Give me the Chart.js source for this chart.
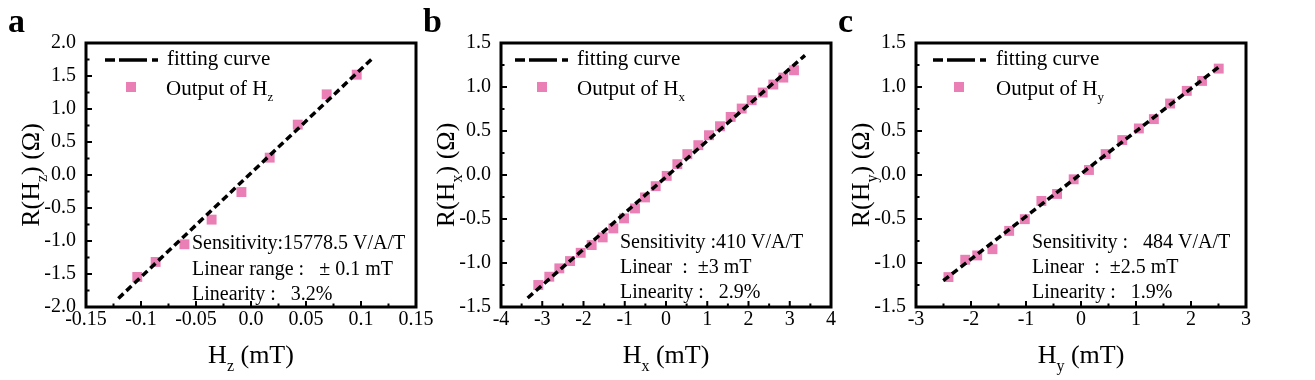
<!DOCTYPE html>
<html><head><meta charset="utf-8">
<script src="https://cdn.jsdelivr.net/npm/chart.js@4/dist/chart.umd.min.js"></script>
<style>
body{margin:0;background:#fff;width:1315px;height:380px;overflow:hidden;position:relative}
canvas{position:absolute;top:0}
</style></head><body>
<canvas id="ca" width="440" height="380" style="left:0px"></canvas>
<canvas id="cb" width="440" height="380" style="left:415px"></canvas>
<canvas id="cc" width="440" height="380" style="left:830px"></canvas>
<script>
// ---- Panel a: Hz ----
const hzField  = [-0.1034, -0.0867, -0.0605, -0.0358, -0.0087, 0.0170, 0.0425, 0.0688, 0.0961];
const hzOutput = [-1.545, -1.317, -1.05, -0.676, -0.258, 0.263, 0.763, 1.222, 1.52];
const hzFitField  = [-0.1206, 0.1118];
const hzFitOutput = [-1.87, 1.79];
const hzXTickLabels = ['-0.15','-0.1','-0.05','0.0','0.05','0.1','0.15'];
const hzYTickLabels = ['-2.0','-1.5','-1.0','-0.5','0.0','0.5','1.0','1.5','2.0'];

// ---- Panel b: Hx ----
const hxField  = [-3.096,-2.829,-2.586,-2.327,-2.068,-1.802,-1.535,-1.277,-1.018,-0.752,-0.509,-0.250,0.017,0.275,0.517,0.784,1.042,1.309,1.568,1.835,2.077,2.344,2.602,2.844,3.103];
const hxOutput = [-1.250,-1.156,-1.061,-0.978,-0.884,-0.796,-0.709,-0.607,-0.493,-0.380,-0.255,-0.127,-0.010,0.123,0.237,0.339,0.452,0.554,0.660,0.755,0.850,0.937,1.028,1.107,1.190];
const hxFitField  = [-3.354, 3.37];
const hxFitOutput = [-1.398, 1.36];
const hxXTickLabels = ['-4','-3','-2','-1','0','1','2','3','4'];
const hxYTickLabels = ['-1.5','-1.0','-0.5','0.0','0.5','1.0','1.5'];

// ---- Panel c: Hy ----
const hyField  = [-2.41,-2.105,-1.887,-1.61,-1.306,-1.022,-0.72,-0.435,-0.133,0.145,0.448,0.75,1.052,1.325,1.62,1.923,2.20,2.504];
const hyOutput = [-1.16,-0.963,-0.914,-0.843,-0.635,-0.502,-0.295,-0.215,-0.049,0.057,0.238,0.397,0.529,0.635,0.812,0.956,1.069,1.209];
const hyFitField  = [-2.504, 2.546];
const hyFitOutput = [-1.20, 1.247];
const hyXTickLabels = ['-3','-2','-1','0','1','2','3'];
const hyYTickLabels = ['-1.5','-1.0','-0.5','0.0','0.5','1.0','1.5'];

const PINK = 'rgb(233,127,181)';
const SERIF = '"Liberation Serif", "Times New Roman", serif';

function richWidth(ctx, parts, size, subSize){
  let w = 0;
  parts.forEach(p => { ctx.font = (p.sub ? subSize : size) + 'px ' + SERIF; w += ctx.measureText(p.t).width; });
  return w;
}
function drawRich(ctx, parts, x, y, size, subSize, subShift){
  parts.forEach(p => {
    ctx.font = (p.sub ? subSize : size) + 'px ' + SERIF;
    ctx.fillText(p.t, x, y + (p.sub ? subShift : 0));
    x += ctx.measureText(p.t).width;
  });
}

const decor = {
  id: 'decor',
  afterDraw(chart, args, o) {
    const ctx = chart.ctx, a = chart.chartArea;
    const xs = chart.scales.x, ys = chart.scales.y;
    ctx.save();
    ctx.fillStyle = '#000'; ctx.strokeStyle = '#000';
    // inward ticks
    ctx.lineWidth = 2;
    const xt = xs.ticks, yt = ys.ticks;
    ctx.beginPath();
    xt.forEach((t, i) => {
      const p = xs.getPixelForValue(t.value);
      ctx.moveTo(p, a.bottom); ctx.lineTo(p, a.bottom - 6);
      if (i < xt.length - 1) {
        const m = xs.getPixelForValue((t.value + xt[i+1].value) / 2);
        ctx.moveTo(m, a.bottom); ctx.lineTo(m, a.bottom - 3.5);
      }
    });
    yt.forEach((t, i) => {
      const p = ys.getPixelForValue(t.value);
      ctx.moveTo(a.left, p); ctx.lineTo(a.left + 6, p);
      if (i < yt.length - 1) {
        const m = ys.getPixelForValue((t.value + yt[i+1].value) / 2);
        ctx.moveTo(a.left, m); ctx.lineTo(a.left + 3.5, m);
      }
    });
    ctx.stroke();
    // frame
    ctx.lineWidth = 3;
    ctx.strokeRect(a.left, a.top, a.right - a.left, a.bottom - a.top);

    // legend
    const L = o.legend;
    ctx.lineWidth = 3.5; ctx.lineCap = 'butt';
    ctx.beginPath();
    [[0,10],[14,42],[47,53]].forEach(s => {
      ctx.moveTo(a.left + L.line + s[0], a.top + 17);
      ctx.lineTo(a.left + L.line + s[1], a.top + 17);
    });
    ctx.stroke();
    ctx.textAlign = 'left'; ctx.textBaseline = 'alphabetic';
    ctx.font = '21px ' + SERIF;
    ctx.fillText('fitting curve', a.left + L.text1, 65);
    ctx.fillStyle = PINK;
    ctx.fillRect(a.left + L.marker - 5, 87 - 5, 10, 10);
    ctx.fillStyle = '#000';
    drawRich(ctx, [{t:'Output of H'},{t:o.sub, sub:true}], a.left + L.text2, 95, 21, 13, 6);

    // stats text
    ctx.font = '20px ' + SERIF;
    o.stats.forEach((s, i) => ctx.fillText(s, a.left + o.statsX, o.statsY[i]));

    // x axis title
    const xParts = [{t:'H'},{t:o.sub, sub:true},{t:' (mT)'}];
    const wx = richWidth(ctx, xParts, 26, 16);
    drawRich(ctx, xParts, (a.left + a.right) / 2 - wx / 2, 363, 26, 16, 8);

    // y axis title
    const yParts = [{t:'R(H'},{t:o.sub, sub:true},{t:') (Ω)'}];
    const wy = richWidth(ctx, yParts, 26, 16);
    ctx.save();
    ctx.translate(a.left - 47, (a.top + a.bottom) / 2);
    ctx.rotate(-Math.PI / 2);
    drawRich(ctx, yParts, -wy / 2, 0, 26, 16, 8);
    ctx.restore();

    // panel letter
    ctx.font = 'bold 34px ' + SERIF;
    ctx.fillText(o.letter, 8, 32);
    ctx.restore();
  }
};

function makeChart(id, cfg) {
  const font = {family: SERIF, size: 20};
  const lab = (labels, min, step) => (v) => labels[Math.round((v - min) / step)];
  return new Chart(document.getElementById(id), {
    type: 'scatter',
    data: { datasets: [
      { type: 'line', data: cfg.fitX.map((x, i) => ({x, y: cfg.fitY[i]})),
        borderColor: '#000', borderWidth: 3.5, borderDash: [7, 4], pointRadius: 0, fill: false, tension: 0 },
      { data: cfg.x.map((x, i) => ({x, y: cfg.y[i]})), pointStyle: 'rect', pointRadius: 7,
        backgroundColor: PINK, borderColor: PINK, borderWidth: 0 }
    ]},
    options: {
      responsive: false, animation: false, devicePixelRatio: 1,
      layout: { padding: { left: 0, right: 24, top: 43, bottom: 0 } },
      plugins: { legend: { display: false }, tooltip: { enabled: false }, decor: cfg.decor },
      scales: {
        x: { type: 'linear', min: cfg.xMin, max: cfg.xMax,
          ticks: { stepSize: cfg.xStep, autoSkip: false, maxRotation: 0, padding: 1, color: '#000', font,
                   callback: lab(cfg.xLabels, cfg.xMin, cfg.xStep) },
          grid: { display: false, drawTicks: false }, border: { display: false },
          afterFit: s => { s.height = 73; s.paddingLeft = 0; s.paddingRight = 0; } },
        y: { type: 'linear', min: cfg.yMin, max: cfg.yMax,
          ticks: { stepSize: 0.5, autoSkip: false, padding: 10, color: '#000', font,
                   callback: lab(cfg.yLabels, cfg.yMin, 0.5) },
          grid: { display: false, drawTicks: false }, border: { display: false },
          afterFit: s => { s.width = 86; s.paddingTop = 0; s.paddingBottom = 0; } }
      }
    },
    plugins: [decor]
  });
}

makeChart('ca', { x: hzField, y: hzOutput, fitX: hzFitField, fitY: hzFitOutput,
  xMin: -0.15, xMax: 0.15, xStep: 0.05, yMin: -2, yMax: 2, xLabels: hzXTickLabels, yLabels: hzYTickLabels,
  decor: { letter: 'a', sub: 'z', legend: { line: 19, text1: 81, marker: 45, text2: 80 },
    stats: ['Sensitivity:15778.5 V/A/T', 'Linear range :   ± 0.1 mT', 'Linearity :   3.2%'],
    statsX: 106, statsY: [249, 275, 300] } });

makeChart('cb', { x: hxField, y: hxOutput, fitX: hxFitField, fitY: hxFitOutput,
  xMin: -4, xMax: 4, xStep: 1, yMin: -1.5, yMax: 1.5, xLabels: hxXTickLabels, yLabels: hxYTickLabels,
  decor: { letter: 'b', sub: 'x', legend: { line: 14, text1: 76, marker: 41, text2: 76 },
    stats: ['Sensitivity :410 V/A/T', 'Linear  :  ±3 mT', 'Linearity :   2.9%'],
    statsX: 119, statsY: [248, 273, 298] } });

makeChart('cc', { x: hyField, y: hyOutput, fitX: hyFitField, fitY: hyFitOutput,
  xMin: -3, xMax: 3, xStep: 1, yMin: -1.5, yMax: 1.5, xLabels: hyXTickLabels, yLabels: hyYTickLabels,
  decor: { letter: 'c', sub: 'y', legend: { line: 17, text1: 80, marker: 43, text2: 80 },
    stats: ['Sensitivity :   484 V/A/T', 'Linear  :  ±2.5 mT', 'Linearity :   1.9%'],
    statsX: 116, statsY: [248, 273, 298] } });
</script>
</body></html>
